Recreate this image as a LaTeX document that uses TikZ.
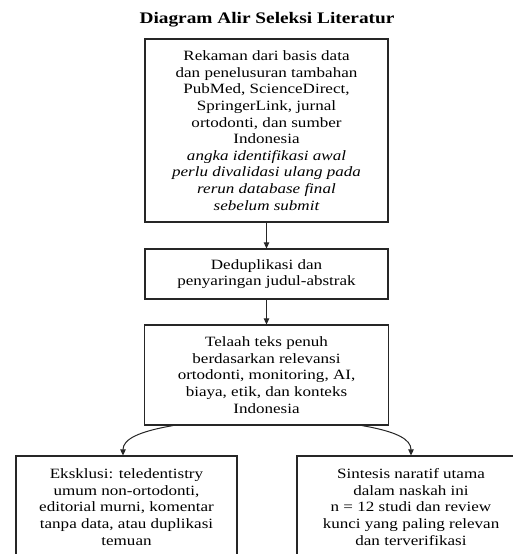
\documentclass[tikz,border=0pt]{standalone}
\usepackage{fontspec}
\setmainfont[FakeStretch=1.2]{Liberation Serif}
\usetikzlibrary{arrows.meta}
\begin{document}
\begin{tikzpicture}[x=1pt,y=-1pt,
  box/.style={draw=black!85, line width=1.2pt, align=center, inner sep=0pt, text=black,
    font=\fontsize{14.2}{16.6}\selectfont},
  arr/.style={-{Triangle[length=6pt,width=5.5pt]}, line width=1pt, draw=black!85}]
\useasboundingbox (0,0) rectangle (513,554);
\clip (0,0) rectangle (513,554);
\fill[white] (0,0) rectangle (513,554);

\node[font=\bfseries\fontsize{16.1}{19}\selectfont, text=black] (title) at (267,20) {Diagram Alir Seleksi Literatur};

\node[box, minimum width=243pt, minimum height=183pt] (n1) at (266.5,130.5) {Rekaman dari basis data\\dan penelusuran tambahan\\PubMed, ScienceDirect,\\SpringerLink, jurnal\\ortodonti, dan sumber\\Indonesia\\{\itshape angka identifikasi awal}\\{\itshape perlu divalidasi ulang pada}\\{\itshape rerun database final}\\{\itshape sebelum submit}};

\node[box, minimum width=243pt, minimum height=50pt] (n2) at (266.5,274) {Deduplikasi dan\\penyaringan judul-abstrak};

\node[box, minimum width=244pt, minimum height=100pt] (n3) at (266.5,375) {Telaah teks penuh\\berdasarkan relevansi\\ortodonti, monitoring, AI,\\biaya, etik, dan konteks\\Indonesia};

\node[box, minimum width=221pt, minimum height=102pt] (n4) at (126.5,507) {Eksklusi: teledentistry\\umum non-ortodonti,\\editorial murni, komentar\\tanpa data, atau duplikasi\\temuan};

\node[box, minimum width=228pt, minimum height=102pt] (n5) at (411,507) {Sintesis naratif utama\\dalam naskah ini\\n = 12 studi dan review\\kunci yang paling relevan\\dan terverifikasi};

\draw[arr] (n1) -- (n2);
\draw[arr] (n2) -- (n3);
\draw[arr] ([xshift=-93.5pt]n3.south) .. controls +(-35,6) and +(0,-16) .. ([xshift=-3.5pt]n4.north);
\draw[arr] ([xshift=95.5pt]n3.south) .. controls +(35,6) and +(0,-16) .. (n5.north);
\end{tikzpicture}
\end{document}
